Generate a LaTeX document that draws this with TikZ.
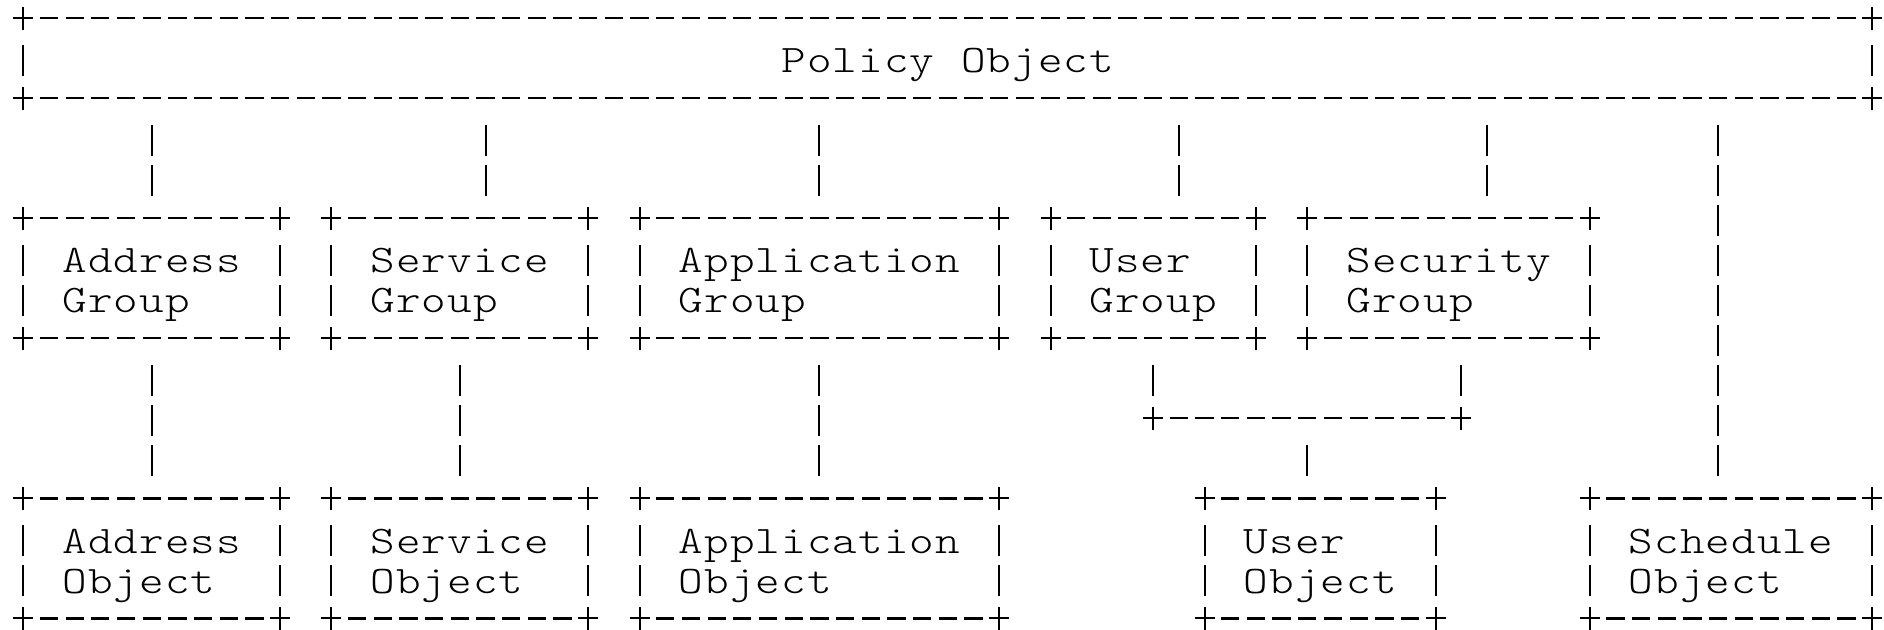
\documentclass[tikz,border=0pt]{standalone}
\usepackage{fontspec}
\usetikzlibrary{calc}
\newfontfamily\boxfont{lmmonolt10-regular.otf}[FakeStretch=1.2]

% one character cell of the monospaced grid
\newlength\cellw
\setlength\cellw{12.84pt}
\makeatletter
% set a word letter by letter, one letter per grid cell
\newcommand\gridtext[1]{\@tfor\gt@ch:=#1\do{\makebox[\cellw][c]{\gt@ch}}}
\makeatother

\tikzset{
  glyph/.style={line width=1pt},
  hdash/.style={line width=1.2pt, dash pattern=on 9.15pt off 3.69pt},
  vdash/.style={line width=1pt, dash pattern=on 15.5pt off 4.5pt},
  frame/.style={rectangle, inner sep=0pt, outer sep=0pt, anchor=north west},
  txt/.style={inner sep=0pt, outer sep=0pt, anchor=base west, yshift=-7.35pt,
    font=\boxfont\fontsize{19.5pt}{20pt}\selectfont},
  cross/.pic={\draw[glyph] (-5pt,0pt) -- (5pt,0pt) (0pt,-5.75pt) -- (0pt,5.75pt);}
}

% border of a box: dashed edges, bar sides, crosses at the corners
\newcommand\asciibox[1]{%
  \draw[hdash] ($(#1.north west)+(8.265pt,0pt)$) -- ($(#1.north east)+(-8.265pt,0pt)$);
  \draw[hdash] ($(#1.south west)+(8.265pt,0pt)$) -- ($(#1.south east)+(-8.265pt,0pt)$);
  \draw[vdash] ($(#1.north west)+(0pt,-13.35pt)$) -- ($(#1.south west)+(0pt,11.15pt)$);
  \draw[vdash] ($(#1.north east)+(0pt,-13.35pt)$) -- ($(#1.south east)+(0pt,11.15pt)$);
  \pic at (#1.north west) {cross};
  \pic at (#1.north east) {cross};
  \pic at (#1.south west) {cross};
  \pic at (#1.south east) {cross};
}
% box from column/row #2,#3 to column/row #4,#5
\newcommand\boxnode[5]{%
  \node[frame, minimum width={(#4-#2)*\cellw}, minimum height={(#5-#3)*20pt}] (#1) at (#2,#3) {};
  \asciibox{#1}%
}

\begin{document}
\begin{tikzpicture}[x=12.84pt, y=-20pt]
\fill[white] (-11.65pt,9.15pt) rectangle (930.35pt,-305.85pt);
\useasboundingbox (-11.65pt,9.15pt) rectangle (930.35pt,-305.85pt);

% boxes
\boxnode{policy}{0}{0}{72}{2}
\boxnode{addrG}{0}{5}{10}{8}
\boxnode{servG}{12}{5}{22}{8}
\boxnode{appG}{24}{5}{38}{8}
\boxnode{userG}{40}{5}{48}{8}
\boxnode{secG}{50}{5}{61}{8}
\boxnode{addrO}{0}{12}{10}{15}
\boxnode{servO}{12}{12}{22}{15}
\boxnode{appO}{24}{12}{38}{15}
\boxnode{userO}{46}{12}{55}{15}
\boxnode{schedO}{61}{12}{72}{15}

% labels
\node[txt] (policyT) at (29.5,1) {\gridtext{Policy~Object}};
\node[txt] (addrG1) at (1.5,6) {\gridtext{Address}};
\node[txt] (addrG2) at (1.5,7) {\gridtext{Group}};
\node[txt] (servG1) at (13.5,6) {\gridtext{Service}};
\node[txt] (servG2) at (13.5,7) {\gridtext{Group}};
\node[txt] (appG1) at (25.5,6) {\gridtext{Application}};
\node[txt] (appG2) at (25.5,7) {\gridtext{Group}};
\node[txt] (userG1) at (41.5,6) {\gridtext{User}};
\node[txt] (userG2) at (41.5,7) {\gridtext{Group}};
\node[txt] (secG1) at (51.5,6) {\gridtext{Security}};
\node[txt] (secG2) at (51.5,7) {\gridtext{Group}};
\node[txt] (addrO1) at (1.5,13) {\gridtext{Address}};
\node[txt] (addrO2) at (1.5,14) {\gridtext{Object}};
\node[txt] (servO1) at (13.5,13) {\gridtext{Service}};
\node[txt] (servO2) at (13.5,14) {\gridtext{Object}};
\node[txt] (appO1) at (25.5,13) {\gridtext{Application}};
\node[txt] (appO2) at (25.5,14) {\gridtext{Object}};
\node[txt] (userO1) at (47.5,13) {\gridtext{User}};
\node[txt] (userO2) at (47.5,14) {\gridtext{Object}};
\node[txt] (schedO1) at (62.5,13) {\gridtext{Schedule}};
\node[txt] (schedO2) at (62.5,14) {\gridtext{Object}};

% entry points on box tops
\coordinate (inS) at ($(servG.north)+(\cellw,0pt)$);
\coordinate (inU) at ($(userG.north)+(\cellw,0pt)$);
\coordinate (inSec) at ($(secG.north)+(1.5\cellw,0pt)$);
\coordinate (inSch) at ($(schedO.north)+(-0.5\cellw,0pt)$);
% junction joining user and security groups
\coordinate (jL) at (44,10);
\coordinate (jM) at (50,10);
\coordinate (jR) at (56,10);

% policy to groups
\draw[vdash] ($(policy.south -| addrG.north)+(0pt,-13.35pt)$) -- ($(addrG.north)+(0pt,11.15pt)$);
\draw[vdash] ($(policy.south -| inS)+(0pt,-13.35pt)$) -- ($(inS)+(0pt,11.15pt)$);
\draw[vdash] ($(policy.south -| appG.north)+(0pt,-13.35pt)$) -- ($(appG.north)+(0pt,11.15pt)$);
\draw[vdash] ($(policy.south -| inU)+(0pt,-13.35pt)$) -- ($(inU)+(0pt,11.15pt)$);
\draw[vdash] ($(policy.south -| inSec)+(0pt,-13.35pt)$) -- ($(inSec)+(0pt,11.15pt)$);
\draw[vdash] ($(policy.south -| inSch)+(0pt,-13.35pt)$) -- ($(inSch)+(0pt,11.15pt)$);

% groups to objects
\draw[vdash] ($(addrG.south)+(0pt,-13.35pt)$) -- ($(addrO.north)+(0pt,11.15pt)$);
\draw[vdash] ($(servG.south)+(0pt,-13.35pt)$) -- ($(servO.north)+(0pt,11.15pt)$);
\draw[vdash] ($(appG.south)+(0pt,-13.35pt)$) -- ($(appO.north)+(0pt,11.15pt)$);
\draw[vdash] ($(userG.south)+(0pt,-13.35pt)$) -- ($(jL)+(0pt,11.15pt)$);
\draw[vdash] ($(secG.south -| jR)+(0pt,-13.35pt)$) -- ($(jR)+(0pt,11.15pt)$);
\draw[hdash] ($(jL)+(8.265pt,0pt)$) -- ($(jR)+(-8.265pt,0pt)$);
\pic at (jL) {cross};
\pic at (jR) {cross};
\draw[vdash] ($(jM)+(0pt,-13.35pt)$) -- ($(userO.north -| jM)+(0pt,11.15pt)$);
\end{tikzpicture}
\end{document}
